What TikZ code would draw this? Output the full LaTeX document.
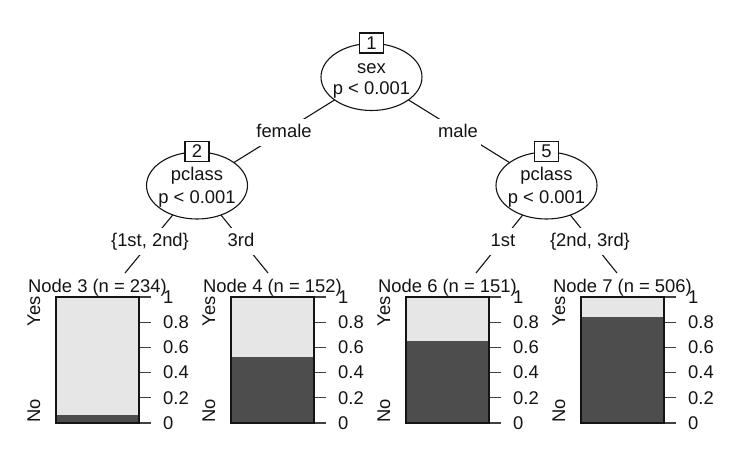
\documentclass[tikz,border=0pt]{standalone}
\usepackage{fontspec}
\setmainfont{Liberation Sans}
\usetikzlibrary{shapes.geometric,backgrounds}
\definecolor{lightbar}{RGB}{230,230,230}
\definecolor{darkbar}{RGB}{77,77,77}
\definecolor{inkc}{RGB}{20,20,20}
\begin{document}
\begin{tikzpicture}[x=1pt,y=-1pt,
  every node/.style={font=\fontsize{18.4}{22}\selectfont, text=inkc},
  inner/.style={ellipse, draw=inkc, line width=1.1pt, fill=white, minimum width=101pt, minimum height=67pt, inner sep=0pt},
  idbox/.style={draw=inkc, fill=white, line width=1.1pt, minimum width=24pt, minimum height=20pt, inner sep=0pt},
  edgelab/.style={fill=white, inner xsep=3pt, inner ysep=0pt, text height=13.5pt, text depth=4pt, minimum height=27pt, anchor=base},
  conn/.style={draw=inkc, line width=1.1pt},
  tickline/.style={draw=black!75, line width=1.1pt},
  ticklab/.style={anchor=west, inner sep=0pt},
  barframe/.style={draw=inkc, line width=1.1pt}
]
\useasboundingbox (0,0) rectangle (739,463);
% inner nodes
\node[inner] (n1) at (371.5,77) {};
\node[inner] (n2) at (197,185.5) {};
\node[inner] (n5) at (546.5,185.5) {};
\node[idbox] (b1) at (n1.north) {1};
\node[idbox] (b2) at (n2.north) {2};
\node[idbox] (b5) at (n5.north) {5};
\node[anchor=base] (v1) at (371.5,73) {sex};
\node[anchor=base] (p1) at (371.5,94.5) {p < 0.001};
\node[anchor=base] (v2) at (197,180.5) {pclass};
\node[anchor=base] (p2) at (197,203) {p < 0.001};
\node[anchor=base] (v5) at (546.5,180.5) {pclass};
\node[anchor=base] (p5) at (546.5,203) {p < 0.001};
% terminal top points
\coordinate (t3) at (125,273);
\coordinate (t4) at (268,273);
\coordinate (t6) at (476,273);
\coordinate (t7) at (617,273);
% connectors behind
\begin{scope}[on background layer]
\fill[white] (0,0) rectangle (739,463);
\draw[conn] (n1.center) -- (n2.center);
\draw[conn] (n1.center) -- (n5.center);
\draw[conn] (n2.center) -- (t3);
\draw[conn] (n2.center) -- (t4);
\draw[conn] (n5.center) -- (t6);
\draw[conn] (n5.center) -- (t7);
\end{scope}
% edge labels
\node[edgelab] (l12) at (284,137) {female};
\node[edgelab] (l15) at (458,137) {male};
\node[edgelab] (l23) at (150,246) {\{1st, 2nd\}};
\node[edgelab] (l24) at (241,246) {3rd};
\node[edgelab] (l56) at (503,246) {1st};
\node[edgelab] (l57) at (590,246) {\{2nd, 3rd\}};
% terminal nodes
\foreach \L/\f/\id/\n in {56/0.065/3/234, 231/0.52/4/152, 406/0.65/6/151, 581/0.84/7/506}{
  \pgfmathsetmacro{\ytop}{423-126*\f}
  \pgfmathsetmacro{\R}{\L+83}
  \fill[darkbar] (\L,\ytop) rectangle (\R,423);
  \fill[lightbar] (\L,297) rectangle (\R,\ytop);
  \draw[tickline] (\R,297) -- ++(12,0);
  \draw[tickline] (\R,322.2) -- ++(12,0);
  \draw[tickline] (\R,347.4) -- ++(12,0);
  \draw[tickline] (\R,372.6) -- ++(12,0);
  \draw[tickline] (\R,397.8) -- ++(12,0);
  \draw[tickline] (\R,423) -- ++(12,0);
  \draw[barframe] (\L,297) rectangle (\R,423);
  \node[ticklab] (a1-\id) at (\R+24,297) {1};
  \node[ticklab] (a8-\id) at (\R+24,322.2) {0.8};
  \node[ticklab] (a6-\id) at (\R+24,347.4) {0.6};
  \node[ticklab] (a4-\id) at (\R+24,372.6) {0.4};
  \node[ticklab] (a2-\id) at (\R+24,397.8) {0.2};
  \node[ticklab] (a0-\id) at (\R+24,423) {0};
  \node[anchor=base] (title-\id) at (\L+41.5,292) {Node \id{} (n = \n)};
  \node[rotate=90, anchor=east, inner sep=0pt] (yes-\id) at (\L-22,296) {Yes};
  \node[rotate=90, anchor=west, inner sep=0pt] (no-\id) at (\L-22,423) {No};
}
\end{tikzpicture}
\end{document}
